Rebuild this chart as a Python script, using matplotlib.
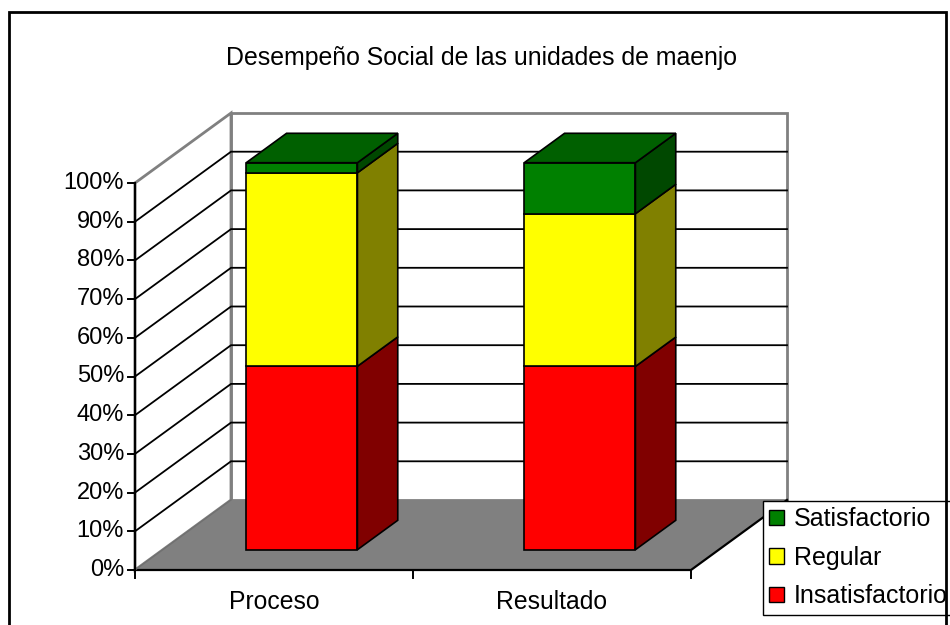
import matplotlib
matplotlib.use("Agg")
import matplotlib.pyplot as plt
from matplotlib.patches import Polygon, Rectangle, Patch

plt.rcParams['font.family'] = ['Liberation Sans', 'DejaVu Sans']

# data (percent of units per category)
categories = ["Proceso", "Resultado"]
series_names = ["Insatisfactorio", "Regular", "Satisfactorio"]
insatisfactorio = [47.4, 47.4]
regular = [50.0, 39.5]
satisfactorio = [2.6, 13.2]
y_ticks = [0, 10, 20, 30, 40, 50, 60, 70, 80, 90, 100]
title = "Desempeño Social de las unidades de maenjo"

front_colors = ["#FF0000", "#FFFF00", "#008000"]
side_colors = ["#800000", "#808000", "#004800"]
top_colors = ["#C00000", "#C0C000", "#006000"]

# layout in pixels (figure 950x625)
W, H = 950, 625
x_org, y_org = 135, 570       # front 0% / first category edge
px_cat = 278.0                # pixels per category
px_pct = 3.87                 # pixels per percent
DX = 96 / px_cat              # full depth offset in data units
DY = 70 / px_pct
z0, z1 = 0.29, 0.71           # bar depth range
bar_w = 0.4

fig = plt.figure(figsize=(W / 100, H / 100), dpi=100)
ax = fig.add_axes([0, 0, 1, 1])
ax.set_xlim(-x_org / px_cat, (W - x_org) / px_cat)
ax.set_ylim((y_org - H) / px_pct, y_org / px_pct)
ax.axis("off")


def P(x, y, z):
    return (x + z * DX, y + z * DY)


ncat = len(categories)
# back wall
ax.add_patch(Polygon([P(0, 0, 1), P(ncat, 0, 1), P(ncat, 100, 1), P(0, 100, 1)],
                     closed=True, facecolor="white", edgecolor="#808080", lw=2, zorder=1))
# left wall
ax.add_patch(Polygon([P(0, 0, 0), P(0, 0, 1), P(0, 100, 1), P(0, 100, 0)],
                     closed=True, facecolor="white", edgecolor="#808080", lw=2, zorder=1))
# gridlines
for v in y_ticks[1:-1]:
    a, b, c = P(0, v, 0), P(0, v, 1), P(ncat, v, 1)
    ax.plot([a[0], b[0], c[0]], [a[1], b[1], c[1]], color="black", lw=1.3, zorder=2)
# floor
ax.add_patch(Polygon([P(0, 0, 0), P(ncat, 0, 0), P(ncat, 0, 1), P(0, 0, 1)],
                     closed=True, facecolor="#808080", edgecolor="none", zorder=3))
a, b = P(ncat, 0, 0), P(ncat, 0, 1)
ax.plot([0, ncat, b[0]], [0, 0, b[1]], color="black", lw=1.6, zorder=4)
a, b = P(0, 0, 0), P(0, 0, 1)
ax.plot([a[0], b[0]], [a[1], b[1]], color="#707070", lw=1, zorder=4)

# value axis
ax.plot([0, 0], [0, 100], color="black", lw=1.6, zorder=4)
for v in y_ticks:
    ax.plot([-7 / px_cat, 0], [v, v], color="black", lw=1.4, zorder=4)
    ax.text(-11 / px_cat, v, f"{v}%", ha="right", va="center", fontsize=17)
# category axis ticks and labels
for i in range(ncat + 1):
    ax.plot([i, i], [0, -8 / px_pct], color="black", lw=1.4, zorder=4)
for i, name in enumerate(categories):
    ax.text(i + 0.5, -32 / px_pct, name, ha="center", va="center", fontsize=17.8)

# bars
values = [insatisfactorio, regular, satisfactorio]
for i in range(ncat):
    total = sum(s[i] for s in values)
    x0, x1 = i + 0.5 - bar_w / 2, i + 0.5 + bar_w / 2
    lo = 0.0
    for j, s in enumerate(values):
        hi = lo + 100 * s[i] / total
        ax.add_patch(Polygon([P(x0, lo, z0), P(x1, lo, z0), P(x1, hi, z0), P(x0, hi, z0)],
                             closed=True, facecolor=front_colors[j], edgecolor="black", lw=1.2, zorder=5))
        ax.add_patch(Polygon([P(x1, lo, z0), P(x1, lo, z1), P(x1, hi, z1), P(x1, hi, z0)],
                             closed=True, facecolor=side_colors[j], edgecolor="black", lw=1.2, zorder=5))
        if j == len(values) - 1:
            ax.add_patch(Polygon([P(x0, hi, z0), P(x1, hi, z0), P(x1, hi, z1), P(x0, hi, z1)],
                                 closed=True, facecolor=top_colors[j], edgecolor="black", lw=1.2, zorder=5))
        lo = hi

# title
fig.text(482 / W, 1 - 58 / H, title, ha="center", va="center", fontsize=17.9)

# legend
handles = [Patch(facecolor=front_colors[j], edgecolor="black", label=series_names[j])
           for j in reversed(range(len(series_names)))]
ax.legend(handles=handles, loc="upper left", bbox_to_anchor=(763 / W, 1 - 501 / H),
          bbox_transform=fig.transFigure, fontsize=18, frameon=True, fancybox=False,
          edgecolor="black", framealpha=1, borderpad=0.25, labelspacing=0.58,
          handlelength=0.6, handleheight=0.6, handletextpad=0.4, borderaxespad=0)

# chart border
fig.add_artist(Rectangle((9 / W, -0.1), (946 - 9) / W, 1.1 - 12 / H, transform=fig.transFigure,
                         fill=False, edgecolor="black", lw=2))

fig.savefig("out.png", dpi=100)
